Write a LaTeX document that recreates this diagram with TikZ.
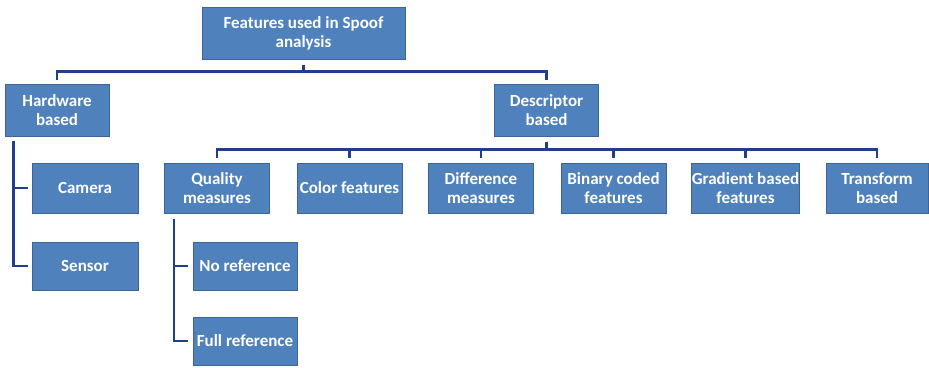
\documentclass[tikz,border=0pt]{standalone}
\usepackage{fontspec}
\setmainfont{Carlito}
\usepackage{tikz}

\definecolor{boxblue}{HTML}{4F81BD}
\definecolor{boxedge}{HTML}{3C6496}
\definecolor{linkblue}{HTML}{1F3F8A}

\tikzset{
  featbox/.style={rectangle, fill=boxblue, draw=boxedge, line width=1pt,
    text=white, align=center, inner sep=0pt,
    font=\fontsize{17}{19}\selectfont\bfseries},
  topbox/.style={featbox, minimum width=203pt, minimum height=52pt},
  midbox/.style={featbox, minimum width=104pt, minimum height=52pt},
  leafbox/.style={featbox, minimum width=105pt, minimum height=50pt},
  lowbox/.style={featbox, minimum width=104pt, minimum height=48pt},
  link/.style={draw=linkblue, line width=2.2pt}
}

\begin{document}
\begin{tikzpicture}[x=1pt, y=-1pt]
          \useasboundingbox (0,0) rectangle (929,367);

          % Root
          \node[topbox] (root) at (303.5,33) {Features used in Spoof\\analysis};

          % Second level
          \node[midbox] (hw) at (57,110) {Hardware\\based};
          \node[midbox] (desc) at (546.5,110) {Descriptor\\based};

          % Hardware children
          \node[leafbox, minimum width=106pt] (cam) at (85,188) {Camera};
          \node[lowbox, minimum width=106pt] (sensor) at (85,266) {Sensor};

          % Descriptor children
          \node[leafbox] (qual) at (217,188) {Quality\\measures};
          \node[leafbox] (color) at (349.5,188) {Color features};
          \node[leafbox] (diff) at (481,188) {Difference\\measures};
          \node[leafbox] (binary) at (613.5,188) {Binary coded\\features};
          \node[leafbox] (grad) at (745.5,188) {Gradient based\\features};
          \node[leafbox, minimum width=102pt] (trans) at (877,188) {Transform\\based};

          % Quality children
          \node[lowbox] (noref) at (245,266) {No reference};
          \node[lowbox] (fullref) at (245,341) {Full reference};

          % Connectors
          \draw[link, shorten <=5pt, shorten >=4pt] (root.south) -- ++(0,12) -| (hw.north);
          \draw[link, shorten <=5pt, shorten >=4pt] (root.south) -- ++(0,12) -| (desc.north);
          \foreach \c in {qual,color,diff,binary,grad,trans}
            \draw[link, shorten <=5pt, shorten >=5pt] (desc.south) -- ++(0,13) -| (\c.north);
          \draw[link, shorten <=4pt, shorten >=4pt] ([xshift=9pt]hw.south west) |- (cam.west);
          \draw[link, shorten <=4pt, shorten >=4pt] ([xshift=9pt]hw.south west) |- (sensor.west);
          \draw[link, shorten <=5pt, shorten >=5pt] ([xshift=10pt]qual.south west) |- (noref.west);
          \draw[link, shorten <=5pt, shorten >=5pt] ([xshift=10pt]qual.south west) |- (fullref.west);

\end{tikzpicture}
\end{document}
